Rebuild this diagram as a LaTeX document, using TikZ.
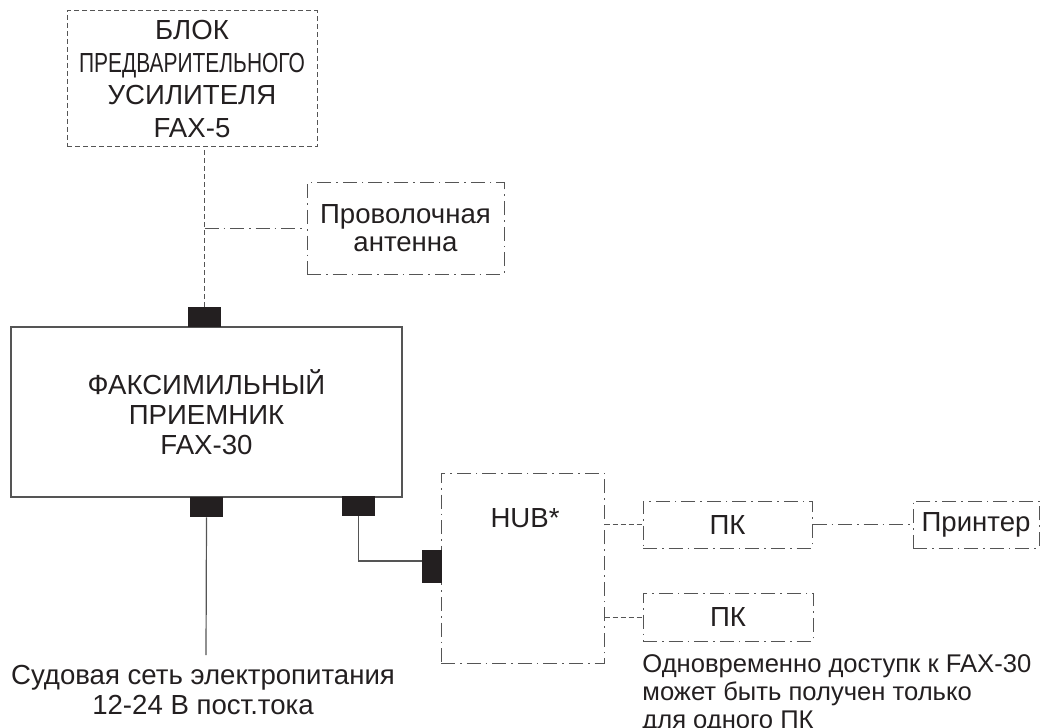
\documentclass[tikz,border=0pt]{standalone}
\usepackage{fontspec}
\setmainfont{Liberation Sans}
\usepackage{graphicx}
\usetikzlibrary{positioning}
\definecolor{InkGray}{HTML}{231F20}
\definecolor{LineGray}{HTML}{555555}

\begin{document}
\begin{tikzpicture}[
  x=0.5pt, y=-0.5pt,
  every node/.style={font=\fontsize{13.8}{15}\selectfont, text=InkGray},
  solidbox/.style={draw=LineGray, line width=0.6pt, inner sep=0pt},
  dashbox/.style={draw=LineGray, line width=0.5pt, dash pattern=on 2.5pt off 1.5pt, inner sep=0pt},
  dotdashbox/.style={draw=LineGray, line width=0.5pt, dash pattern=on 7pt off 2.5pt on 0.8pt off 2.5pt, inner sep=0pt},
  jack/.style={fill=InkGray, inner sep=0pt, minimum width=16.5pt, minimum height=10pt},
  wire/.style={draw=LineGray, line width=0.6pt},
  dashline/.style={wire, line width=0.5pt, dash pattern=on 2.5pt off 1.5pt},
  dotdashline/.style={wire, line width=0.5pt, dash pattern=on 7pt off 2.5pt on 0.8pt off 2.5pt},
]
\useasboundingbox (0,0) rectangle (1047,727);

% Blocks
\node[dashbox, minimum width=125pt, minimum height=68pt, align=center,
      font=\fontsize{13.8}{16.3}\selectfont] (preamp) at (192,79)
  {БЛОК\\\scalebox{0.76}[1]{ПРЕДВАРИТЕЛЬНОГО}\\УСИЛИТЕЛЯ\\FAX-5};
\node[dotdashbox, minimum width=98.5pt, minimum height=45.5pt, align=center,
      font=\fontsize{13.8}{14}\selectfont] (antenna) at (405.5,228.5)
  {Проволочная\\антенна};
\node[solidbox, minimum width=195.5pt, minimum height=85pt, align=center] (fax) at (206.5,412)
  {ФАКСИМИЛЬНЫЙ\\ПРИЕМНИК\\FAX-30};
\node[dotdashbox, minimum width=81.5pt, minimum height=95pt] (hub) at (522.5,568) {};
\node (hublbl) at (525,518) {HUB*};
\node[dotdashbox, minimum width=84.5pt, minimum height=23.5pt] (pc1) at (727.5,524.5) {ПК};
\node[dotdashbox, minimum width=63pt, minimum height=23.5pt] (printer) at (976,524.5) {Принтер};
\node[dotdashbox, minimum width=85pt, minimum height=24pt] (pc2) at (728,617) {ПК};

% Connectors
\node[jack] (jtop) at (204.5,317) {};
\node[jack] (jpow) at (206.5,507) {};
\node[jack] (jlan) at (358.5,506) {};
\node[jack, minimum width=10pt, minimum height=16.5pt] (jhub) at (432,566.5) {};

% Links
\draw[dashline] (jtop.north) -- (jtop.north |- preamp.south);
\draw[dotdashline] (jtop.north |- antenna.west) -- (antenna.west);
\coordinate (mains) at (206,655);
\draw[wire] (jpow.south) -- (mains);
\draw[wire] (jlan.south) |- ([yshift=2.75pt]jhub.west);
\draw[dashline] (pc1.west -| hub.east) -- (pc1.west);
\draw[dashline] (pc2.west -| hub.east) -- (pc2.west);
\draw[dotdashline] (pc1.east) -- (printer.west);

% Notes
\node[align=center, anchor=north, inner sep=0pt] (mainslbl) at (203,665)
  {Судовая сеть электропитания\\12-24 В пост.тока};
\node[align=left, anchor=north west, inner sep=0pt,
      font=\fontsize{12.8}{14}\selectfont] (note) at (642,654)
  {Одновременно доступк к FAX-30\\может быть получен только\\для одного ПК};

\end{tikzpicture}
\end{document}
